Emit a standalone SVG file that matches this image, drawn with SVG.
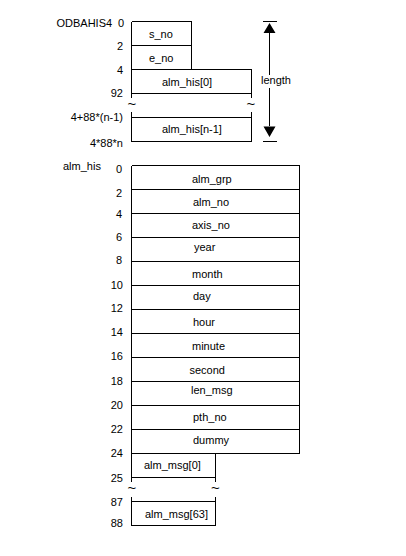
<svg xmlns="http://www.w3.org/2000/svg" width="406" height="556" viewBox="0 0 406 556">
<style>
text{font-family:"Liberation Sans",Arial,sans-serif;font-size:11px;fill:#000}
.r{text-anchor:end}
.t{font-size:15px;text-anchor:middle}
.ln{stroke:#000;stroke-width:1;fill:none;shape-rendering:crispEdges}
</style>
<rect width="406" height="556" fill="#fff"/>
<g id="odbahis4">
<text x="56.5" y="27">ODBAHIS4</text>
<text class="r" x="124" y="27">0</text>
<text class="r" x="123" y="50">2</text>
<text class="r" x="123" y="74">4</text>
<text class="r" x="123" y="97">92</text>
<text class="r" x="123" y="121">4+88*(n-1)</text>
<text class="r" x="123" y="147">4*88*n</text>
</g>
<g id="s_no">
<path class="ln" d="M131.5 21.5H191.5V45.5M131.5 21.5V45.5H191.5"/>
<text x="149" y="38">s_no</text>
</g>
<g id="e_no">
<path class="ln" d="M131.5 45.5V69.5M191.5 45.5V69.5"/>
<text x="149" y="62">e_no</text>
</g>
<g id="alm_his_0">
<path class="ln" d="M131.5 69.5H251.5M131.5 69.5V98M251.5 69.5V98M131.5 93.5H251.5"/>
<text x="162" y="86">alm_his[0]</text>
</g>
<g id="gap1">
<text class="t" x="132" y="109">~</text>
<text class="t" x="251" y="109">~</text>
</g>
<g id="alm_his_n1">
<path class="ln" d="M131.5 112V141.5H251.5V112M131.5 117.5H251.5"/>
<text x="162" y="133">alm_his[n-1]</text>
</g>
<g id="length">
<path class="ln" d="M263 21.5H277M263 141.5H277M269.5 33V75M269.5 88V126"/>
<path d="M269.5 23L263.5 33H275.5Z M269.5 137L263.5 126.5H275.5Z" fill="#000"/>
<text x="261" y="84">length</text>
</g>
<g id="alm_his_label">
<text x="63" y="169.5">alm_his</text>
<text class="r" x="122" y="173">0</text>
<text class="r" x="122" y="197">2</text>
<text class="r" x="122" y="218">4</text>
<text class="r" x="122" y="241">6</text>
<text class="r" x="122" y="264">8</text>
<text class="r" x="123" y="289">10</text>
<text class="r" x="123" y="312">12</text>
<text class="r" x="123" y="336">14</text>
<text class="r" x="123" y="360">16</text>
<text class="r" x="123" y="385">18</text>
<text class="r" x="123" y="409">20</text>
<text class="r" x="123" y="433">22</text>
<text class="r" x="123" y="457">24</text>
<text class="r" x="123" y="481.5">25</text>
<text class="r" x="123" y="506">87</text>
<text class="r" x="123" y="526.5">88</text>
</g>
<g id="alm_his_struct">
<path class="ln" d="M131.5 165.5H299.5V453.5H131.5V165.5M131.5 189.5H299.5M131.5 213.5H299.5M131.5 237.5H299.5M131.5 261.5H299.5M131.5 285.5H299.5M131.5 309.5H299.5M131.5 333.5H299.5M131.5 357.5H299.5M131.5 381.5H299.5M131.5 405.5H299.5M131.5 429.5H299.5"/>
<text x="192" y="183">alm_grp</text>
<text x="193" y="206">alm_no</text>
<text x="192" y="229">axis_no</text>
<text x="194" y="251">year</text>
<text x="192" y="278">month</text>
<text x="193" y="299.5">day</text>
<text x="193" y="326">hour</text>
<text x="192" y="350">minute</text>
<text x="189.5" y="374">second</text>
<text x="191" y="394">len_msg</text>
<text x="193" y="421">pth_no</text>
<text x="193" y="444">dummy</text>
</g>
<g id="alm_msg_0">
<path class="ln" d="M131.5 453.5V482M215.5 453.5V482M131.5 477.5H215.5"/>
<text x="144" y="469">alm_msg[0]</text>
</g>
<g id="gap2">
<text class="t" x="132" y="493">~</text>
<text class="t" x="215.5" y="493">~</text>
</g>
<g id="alm_msg_63">
<path class="ln" d="M131.5 497V525.5H215.5V497M131.5 501.5H215.5"/>
<text x="145" y="518">alm_msg[63]</text>
</g>
</svg>
